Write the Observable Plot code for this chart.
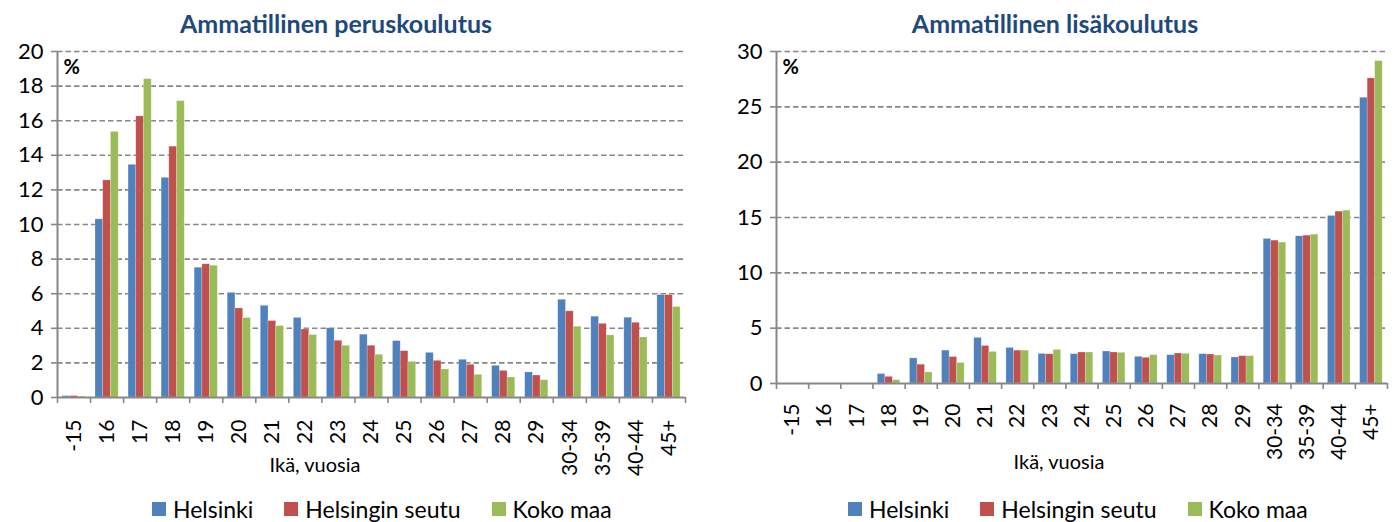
<!DOCTYPE html>
<html>
<head>
<meta charset="utf-8">
<script src="https://cdn.jsdelivr.net/npm/d3@7"></script>
<script src="https://cdn.jsdelivr.net/npm/@observablehq/plot@0.6"></script>
<style>
  html, body { margin: 0; padding: 0; background: #fff; }
  #root { position: relative; width: 1395px; height: 522px; overflow: hidden; font-family: Lato, "Open Sans", sans-serif; }
  .chart { position: absolute; top: 0; }
  .title { position: absolute; top: 8px; transform: translateX(-50%); font: bold 25px Lato, sans-serif; color: #1F497D; white-space: nowrap; }
  .xlabel { position: absolute; transform: translateX(-50%); font: 20px Lato, sans-serif; color: #000; white-space: nowrap; }
  .legend { position: absolute; top: 497px; display: flex; gap: 31px; font: 23px/24px Lato, sans-serif; color: #000; white-space: nowrap; }
  .legend .item { display: flex; align-items: center; gap: 7px; }
  .legend .sw { width: 14px; height: 14px; display: inline-block; }
</style>
</head>
<body>
<div id="root"></div>
<script>
// ---- data ----
const categories = ["-15","16","17","18","19","20","21","22","23","24","25","26","27","28","29","30-34","35-39","40-44","45+"];
const seriesNames = ["Helsinki", "Helsingin seutu", "Koko maa"];
const seriesColors = ["#4F81BD", "#C0504D", "#9BBB59"];

// Ammatillinen peruskoulutus (%)
const peruHelsinki = [0.08, 10.3, 13.45, 12.7, 7.5, 6.05, 5.3, 4.6, 4.0, 3.63, 3.26, 2.58, 2.18, 1.83, 1.45, 5.65, 4.67, 4.61, 5.92];
const peruSeutu    = [0.08, 12.55, 16.25, 14.5, 7.7, 5.15, 4.42, 3.93, 3.28, 2.99, 2.68, 2.12, 1.89, 1.54, 1.27, 4.98, 4.26, 4.32, 5.92];
const peruKoko     = [0.05, 15.35, 18.4, 17.13, 7.62, 4.59, 4.13, 3.61, 2.99, 2.47, 2.06, 1.62, 1.31, 1.16, 1.0, 4.09, 3.59, 3.47, 5.23];

// Ammatillinen lisäkoulutus (%)
const lisaHelsinki = [0, 0, 0, 0.85, 2.27, 2.97, 4.12, 3.21, 2.67, 2.65, 2.89, 2.41, 2.56, 2.65, 2.35, 13.06, 13.3, 15.14, 25.82];
const lisaSeutu    = [0, 0, 0, 0.6, 1.7, 2.39, 3.39, 2.97, 2.64, 2.8, 2.8, 2.32, 2.71, 2.62, 2.47, 12.91, 13.36, 15.53, 27.57];
const lisaKoko     = [0, 0, 0, 0.3, 1.0, 1.85, 2.85, 2.97, 3.03, 2.8, 2.77, 2.56, 2.68, 2.53, 2.47, 12.73, 13.45, 15.62, 29.13];

const titles = ["Ammatillinen peruskoulutus", "Ammatillinen lisäkoulutus"];
const xTitle = "Ikä, vuosia";
const unitLabel = "%";

// ---- build ----
const GROUP = 0.7; // share of each category slot taken by its bar group
function rows(seriesArrays) {
  const out = [];
  seriesArrays.forEach((arr, j) => {
    arr.forEach((v, i) => {
      const x1 = i + (1 - GROUP) / 2 + j * GROUP / 3;
      out.push({cat: categories[i], series: seriesNames[j], value: v, x1, x2: x1 + GROUP / 3});
    });
  });
  return out;
}

function makeChart({data, yMax, yStep, width, height, ml, mr, mt, mb, labelPad}) {
  const yTicks = d3.range(0, yMax + yStep / 2, yStep);
  const n = categories.length;
  return Plot.plot({
    width, height,
    marginLeft: ml, marginRight: mr, marginTop: mt, marginBottom: mb,
    style: {fontFamily: "Lato, sans-serif", fontSize: "20px", color: "#000", background: "transparent", overflow: "visible"},
    x: {domain: [0, n], axis: null},
    y: {domain: [0, yMax], axis: null},
    color: {domain: seriesNames, range: seriesColors},
    marks: [
      Plot.ruleY(yTicks.filter(d => d > 0), {stroke: "#878787", strokeWidth: 1.6, strokeDasharray: "5.5,3"}),
      Plot.rectY(data, {x1: "x1", x2: "x2", y: "value", fill: "series", stroke: "#ffffff", strokeOpacity: 0.35, strokeWidth: 0.6}),
      Plot.axisY({ticks: yTicks, tickSize: 6, tickPadding: 8, fontSize: 22, stroke: "#878787", strokeWidth: 1.6, fill: "#000", label: null}),
      Plot.ruleX([0], {stroke: "#878787", strokeWidth: 2}),
      Plot.ruleY([0], {stroke: "#878787", strokeWidth: 2}),
      Plot.axisX({ticks: d3.range(0, n + 1), tickSize: 6, tickFormat: () => "", stroke: "#878787", strokeWidth: 1.6, label: null}),
      Plot.axisX({ticks: d3.range(n).map(i => i + 0.5), tickFormat: d => categories[Math.floor(d)], tickRotate: -90, tickSize: 0, tickPadding: labelPad, fontSize: 21, fill: "#000", label: null}),
      Plot.text([unitLabel], {frameAnchor: "top-left", dx: 6, dy: 8, text: d => d, fontWeight: "bold", fontSize: 20, textAnchor: "start", lineAnchor: "top", fill: "#000"})
    ]
  });
}

const root = document.getElementById("root");

const left = makeChart({data: rows([peruHelsinki, peruSeutu, peruKoko]), yMax: 20, yStep: 2,
  width: 695, height: 490, ml: 57, mr: 10, mt: 51, mb: 93, labelPad: 22});
left.classList.add("chart"); left.style.left = "0px";
root.appendChild(left);

const right = makeChart({data: rows([lisaHelsinki, lisaSeutu, lisaKoko]), yMax: 30, yStep: 5,
  width: 695, height: 490, ml: 76, mr: 8, mt: 51, mb: 107, labelPad: 20});
right.classList.add("chart"); right.style.left = "700px";
root.appendChild(right);

function addDiv(cls, text, styles) {
  const d = document.createElement("div");
  d.className = cls; d.textContent = text;
  Object.assign(d.style, styles);
  root.appendChild(d);
  return d;
}
addDiv("title", titles[0], {left: "336px"});
addDiv("title", titles[1], {left: "1055px"});
addDiv("xlabel", xTitle, {left: "315px", top: "452px"});
addDiv("xlabel", xTitle, {left: "1059px", top: "449px"});

function addLegend(x) {
  const lg = document.createElement("div");
  lg.className = "legend"; lg.style.left = x + "px";
  seriesNames.forEach((name, j) => {
    const it = document.createElement("div"); it.className = "item";
    const sw = document.createElement("span"); sw.className = "sw"; sw.style.background = seriesColors[j];
    const tx = document.createElement("span"); tx.textContent = name;
    it.appendChild(sw); it.appendChild(tx); lg.appendChild(it);
  });
  root.appendChild(lg);
}
addLegend(152);
addLegend(848);
</script>
</body>
</html>
